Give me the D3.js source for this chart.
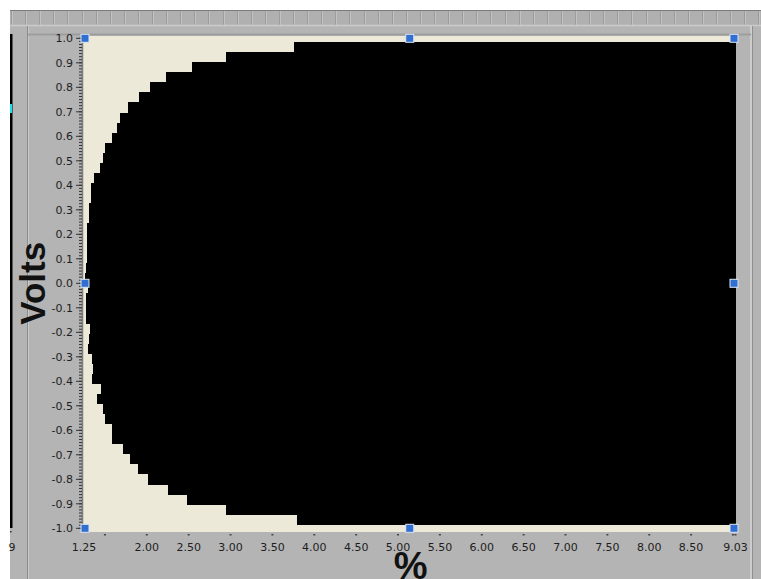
<!DOCTYPE html>
<html><head><meta charset="utf-8">
<script src="https://cdn.jsdelivr.net/npm/d3@7"></script>
<style>
html,body{margin:0;padding:0;background:#fff;}
svg{display:block;}
</style></head><body>
<svg id="chart" width="761" height="579"></svg>
<script>
// Voltage bands (centre of each band, top to bottom) and the lowest % reached in each band
const voltLevels = [
  0.9635, 0.9225, 0.8815, 0.8405, 0.7995, 0.7585, 0.7175, 0.6765,
  0.6355, 0.5945, 0.5535, 0.5125, 0.4715, 0.4305, 0.3895, 0.3485,
  0.3075, 0.2665, 0.2255, 0.1845, 0.1435, 0.1025, 0.0615, 0.0205,
  -0.0205, -0.0615, -0.1025, -0.1435, -0.1845, -0.2255, -0.2665, -0.3075,
  -0.3485, -0.3895, -0.4305, -0.4715, -0.5125, -0.5535, -0.5945, -0.6355,
  -0.6765, -0.7175, -0.7585, -0.7995, -0.8405, -0.8815, -0.9225, -0.9635
];
const pctStart = [
  3.76, 2.94, 2.54, 2.23, 2.04, 1.91, 1.77, 1.68,
  1.65, 1.58, 1.50, 1.48, 1.44, 1.37, 1.33, 1.33,
  1.31, 1.31, 1.29, 1.28, 1.29, 1.28, 1.27, 1.26,
  1.30, 1.27, 1.27, 1.27, 1.32, 1.31, 1.30, 1.35,
  1.36, 1.34, 1.45, 1.40, 1.48, 1.50, 1.59, 1.59,
  1.72, 1.80, 1.89, 2.02, 2.25, 2.48, 2.94, 3.79
];
const bandHeight = 0.041;

const xDomain = [1.25, 9.03];
const yDomain = [-1, 1];
const xTickLabels = [1.25, 2.00, 2.50, 3.00, 3.50, 4.00, 4.50, 5.00, 5.50, 6.00, 6.50, 7.00, 7.50, 8.00, 8.50, 9.03];
const xTickMarks = [1.50, 2.00, 2.50, 3.00, 3.50, 4.00, 4.50, 5.00, 5.50, 6.00, 6.50, 7.00, 7.50, 8.00, 8.50, 9.00, 9.03];
const yTickLabels = [1.0, 0.9, 0.8, 0.7, 0.6, 0.5, 0.4, 0.3, 0.2, 0.1, 0.0, -0.1, -0.2, -0.3, -0.4, -0.5, -0.6, -0.7, -0.8, -0.9, -1.0];
const yMinorStep = 0.0125;

const svg = d3.select("#chart");
const x = d3.scaleLinear().domain(xDomain).range([84, 735.5]);
const y = d3.scaleLinear().domain(yDomain).range([528.3, 38.3]);

// window chrome
svg.append("rect").attr("width", 761).attr("height", 579).attr("fill", "#ffffff");
svg.append("rect").attr("x", 10).attr("y", 10).attr("width", 751).attr("height", 569).attr("fill", "#b4b4b4");
svg.append("rect").attr("x", 10).attr("y", 10).attr("width", 751).attr("height", 15).attr("fill", "#b0b0b0");
svg.append("line").attr("x1", 10).attr("x2", 761).attr("y1", 10.5).attr("y2", 10.5).attr("stroke", "#7c7c7c");
const rulerX = d3.range(11, 761, 14.1);
svg.append("g").selectAll("line").data(rulerX).join("line")
  .attr("x1", d => Math.round(d) + 0.5).attr("x2", d => Math.round(d) + 0.5)
  .attr("y1", 11).attr("y2", 25).attr("stroke", "#9c9c9c");
svg.append("g").selectAll("line").data(rulerX).join("line")
  .attr("x1", d => Math.round(d) + 1.5).attr("x2", d => Math.round(d) + 1.5)
  .attr("y1", 11).attr("y2", 25).attr("stroke", "#c2c2c2");
svg.append("line").attr("x1", 10).attr("x2", 761).attr("y1", 25.5).attr("y2", 25.5).attr("stroke", "#cbcbcb").attr("stroke-width", 1.5);
svg.append("line").attr("x1", 27.5).attr("x2", 27.5).attr("y1", 26).attr("y2", 579).attr("stroke", "#8c8c8c");
svg.append("line").attr("x1", 28.5).attr("x2", 28.5).attr("y1", 26).attr("y2", 579).attr("stroke", "#c9c9c9");
svg.append("line").attr("x1", 751).attr("x2", 751).attr("y1", 26).attr("y2", 579).attr("stroke", "#cdcdcd").attr("stroke-width", 2);
svg.append("line").attr("x1", 752.5).attr("x2", 752.5).attr("y1", 26).attr("y2", 579).attr("stroke", "#8e8e8e");
svg.append("line").attr("x1", 28).attr("x2", 751).attr("y1", 34.5).attr("y2", 34.5).attr("stroke", "#9d9d9d").attr("stroke-width", 2);
svg.append("rect").attr("x", 10).attr("y", 34).attr("width", 2.5).attr("height", 494).attr("fill", "#000");
svg.append("rect").attr("x", 10).attr("y", 104).attr("width", 2).attr("height", 9).attr("fill", "#19e0f0");
svg.append("rect").attr("x", 10).attr("y", 531).attr("width", 1.5).attr("height", 1.5).attr("fill", "#333");
svg.append("text").attr("x", 8.5).attr("y", 551).attr("font-family", "DejaVu Sans").attr("font-size", 11)
  .attr("fill", "#222").text("9");

// plot area
svg.append("rect").attr("x", 83).attr("y", 36).attr("width", 653).attr("height", 496).attr("fill", "#ece9d8");

// filled region: one band per voltage level, from its lowest % to the right edge
svg.append("g").selectAll("rect").data(voltLevels).join("rect")
  .attr("x", (v, i) => x(pctStart[i]))
  .attr("y", v => y(v + bandHeight / 2))
  .attr("width", (v, i) => x(xDomain[1]) + 0.5 - x(pctStart[i]))
  .attr("height", v => y(v - bandHeight / 2) - y(v + bandHeight / 2) + 0.3)
  .attr("fill", "#000")
  .attr("shape-rendering", "crispEdges");

// y axis
svg.append("line").attr("x1", 82.5).attr("x2", 82.5).attr("y1", 36).attr("y2", 532)
  .attr("stroke", "#7d7d7d").attr("stroke-width", 1.5);
const minorVals = d3.range(0, Math.round(2 / yMinorStep) + 1).map(i => -1 + i * yMinorStep);
svg.append("g").selectAll("line").data(minorVals).join("line")
  .attr("x1", 79).attr("x2", 82).attr("y1", d => y(d)).attr("y2", d => y(d))
  .attr("stroke", "#333").attr("stroke-width", 1);
svg.append("g").selectAll("line").data(yTickLabels).join("line")
  .attr("x1", 76).attr("x2", 82).attr("y1", d => y(d)).attr("y2", d => y(d))
  .attr("stroke", "#333").attr("stroke-width", 1);
svg.append("g").selectAll("text").data(yTickLabels).join("text")
  .attr("x", 73).attr("y", d => y(d)).attr("dy", "0.36em")
  .attr("text-anchor", "end").attr("font-family", "DejaVu Sans").attr("font-size", 11)
  .attr("fill", "#1e1e1e")
  .text(d => (Math.abs(d) < 1e-9 ? 0 : d).toFixed(1));

// x axis
svg.append("g").selectAll("rect").data(xTickMarks).join("rect")
  .attr("x", d => x(d) - 1).attr("y", 534).attr("width", 2).attr("height", 1.5).attr("fill", "#444");
svg.append("g").selectAll("text").data(xTickLabels).join("text")
  .attr("x", d => x(d)).attr("y", 551)
  .attr("text-anchor", "middle").attr("font-family", "DejaVu Sans").attr("font-size", 11)
  .attr("fill", "#1e1e1e")
  .text(d => d.toFixed(2));

// selection handles on the plot frame
const [x0, x1] = x.range();
const [yb, yt] = y.range();
const handles = [
  [x0 + 1, yt], [(x0 + x1) / 2, yt], [x1 - 1.5, yt],
  [x0 + 1, (yt + yb) / 2], [x1 - 1.5, (yt + yb) / 2],
  [x0 + 1, yb], [(x0 + x1) / 2, yb], [x1 - 1.5, yb]
];
svg.append("g").selectAll("rect").data(handles).join("rect")
  .attr("x", d => d[0] - 4).attr("y", d => d[1] - 4).attr("width", 8).attr("height", 8)
  .attr("fill", "#2f6fd3").attr("stroke", "#dde6f2").attr("stroke-width", 1);

// axis titles
svg.append("text")
  .attr("transform", `translate(45,${(yt + yb) / 2}) rotate(-90)`)
  .attr("text-anchor", "middle")
  .attr("font-family", "Liberation Sans, Arial, sans-serif").attr("font-weight", "bold")
  .attr("font-size", 35).attr("fill", "#111").text("Volts");
svg.append("text")
  .attr("x", (x0 + x1) / 2 + 1).attr("y", 579)
  .attr("text-anchor", "middle")
  .attr("font-family", "Liberation Sans, Arial, sans-serif").attr("font-weight", "bold")
  .attr("font-size", 38).attr("fill", "#111").text("%");
</script>
</body></html>
